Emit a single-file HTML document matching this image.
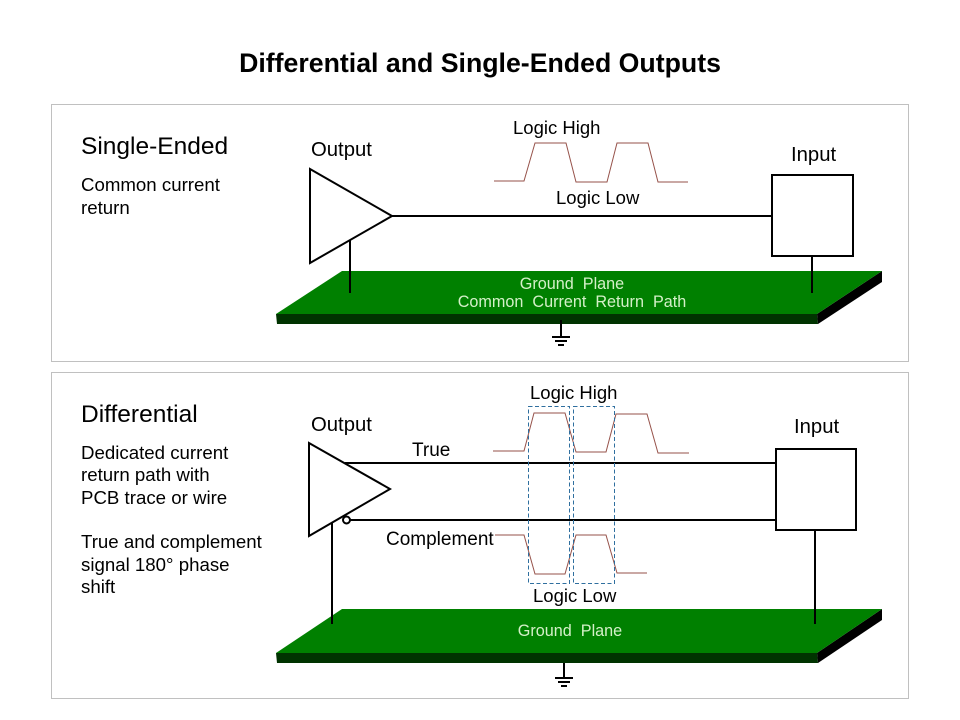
<!DOCTYPE html>
<html><head><meta charset="utf-8"><style>
html,body{margin:0;padding:0;background:#fff}
svg{display:block}
text{font-family:"Liberation Sans",sans-serif;fill:#000}
.g{fill:#d4f0c8;font-size:16.2px;text-anchor:middle;white-space:pre}
</style></head><body>
<svg width="960" height="720" viewBox="0 0 960 720" xmlns="http://www.w3.org/2000/svg">
<rect width="960" height="720" fill="#fff"/>
<text x="480" y="72" font-size="26.7" font-weight="bold" text-anchor="middle">Differential and Single-Ended Outputs</text>
<rect x="51.5" y="104.5" width="857" height="257" fill="#fff" stroke="#c0c0c0"/>
<rect x="51.5" y="372.5" width="857" height="326" fill="#fff" stroke="#c0c0c0"/>

<!-- top panel text -->
<text x="81" y="154" font-size="24.5">Single-Ended</text>
<text x="81" y="191" font-size="18.67">Common current</text>
<text x="81" y="214" font-size="18.67">return</text>
<text x="311" y="156" font-size="20.3">Output</text>
<text x="791" y="161" font-size="20.3">Input</text>
<text x="513" y="134" font-size="18.5">Logic High</text>
<text x="556" y="204" font-size="18.5">Logic Low</text>

<!-- top plane -->
<polygon points="276,314 817,314 818,324 277,324" fill="#003300"/>
<polygon points="817,314 882,271 882,282 818,324" fill="#000"/>
<polygon points="342,271 882,271 817,314 276,314" fill="#008000"/>
<text class="g" x="572" y="289">Ground  Plane</text>
<text class="g" x="572" y="307">Common  Current  Return  Path</text>
<g stroke="#000" stroke-width="2" fill="none">
<line x1="561" y1="320" x2="561" y2="337"/>
<line x1="552" y1="337" x2="570" y2="337"/>
<line x1="555" y1="341" x2="567" y2="341"/>
<line x1="558" y1="345" x2="564" y2="345"/>
<polygon points="310,169 392,216 310,263" fill="#fff"/>
<line x1="392" y1="216" x2="772" y2="216"/>
<rect x="772" y="175" width="81" height="81" fill="#fff"/>
<line x1="350" y1="240" x2="350" y2="293"/>
<line x1="812" y1="256" x2="812" y2="293"/>
</g>
<g stroke="#96524a" stroke-width="1" fill="none">
<polyline points="494,181 524,181 535,143 566,143 576,182 599,182"/>
<polyline points="599,182 607,182 617,143 648,143 658,182 688,182"/>
</g>

<!-- bottom panel text -->
<text x="81" y="422" font-size="24.5">Differential</text>
<text x="81" y="459" font-size="18.67">Dedicated current</text>
<text x="81" y="481" font-size="18.67">return path with</text>
<text x="81" y="504" font-size="18.67">PCB trace or wire</text>
<text x="81" y="548" font-size="18.67">True and complement</text>
<text x="81" y="571" font-size="18.67">signal 180° phase</text>
<text x="81" y="593" font-size="18.67">shift</text>
<text x="311" y="431" font-size="20.3">Output</text>
<text x="794" y="433" font-size="20.3">Input</text>
<text x="412" y="456" font-size="19">True</text>
<text x="386" y="545" font-size="19">Complement</text>
<text x="530" y="399" font-size="18.5">Logic High</text>
<text x="533" y="602" font-size="18.5">Logic Low</text>

<!-- bottom plane -->
<polygon points="276,653 817,653 818,663 277,663" fill="#003300"/>
<polygon points="817,653 882,609 882,620 818,663" fill="#000"/>
<polygon points="342,609 882,609 817,653 276,653" fill="#008000"/>
<text class="g" x="570" y="636">Ground  Plane</text>
<g stroke="#000" stroke-width="2" fill="none">
<line x1="564" y1="663" x2="564" y2="677"/>
<line x1="555" y1="678" x2="573" y2="678"/>
<line x1="558" y1="682" x2="570" y2="682"/>
<line x1="561" y1="686" x2="567" y2="686"/>
<line x1="345" y1="463" x2="776" y2="463"/>
<line x1="350" y1="520" x2="776" y2="520"/>
<polygon points="309,443 390,489 309,536" fill="#fff"/>
<circle cx="346.500" cy="520" r="3.500" fill="#fff"/>
<rect x="776" y="449" width="80" height="81" fill="#fff"/>
<line x1="332" y1="523" x2="332" y2="624"/>
<line x1="815" y1="530" x2="815" y2="624"/>
</g>
<g stroke="#96524a" stroke-width="1" fill="none">
<polyline points="493,451 524,451 534,413 565,413 576,452 606,452 616,414 647,414 658,453 689,453"/>
<polyline points="495,535 524,535 535,574 565,574 576,535 606,535 617,573 647,573"/>
</g>
<g stroke="#2f6f9f" stroke-width="1" stroke-dasharray="4 2.500" fill="none">
<rect x="528.500" y="406.500" width="41" height="177"/>
<rect x="573.500" y="406.500" width="41" height="177"/>
</g>
</svg>
</body></html>
